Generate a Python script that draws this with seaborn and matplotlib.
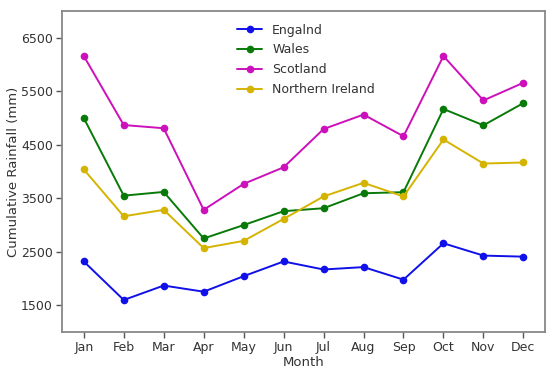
import matplotlib
matplotlib.use("Agg")
import matplotlib.pyplot as plt
import seaborn as sns
import pandas as pd

months = ["Jan", "Feb", "Mar", "Apr", "May", "Jun", "Jul", "Aug", "Sep", "Oct", "Nov", "Dec"]
england = [2320, 1600, 1870, 1755, 2045, 2320, 2170, 2215, 1980, 2660, 2430, 2410]
wales = [5000, 3550, 3620, 2750, 3000, 3260, 3315, 3595, 3615, 5170, 4865, 5280]
scotland = [6160, 4870, 4810, 3285, 3770, 4080, 4795, 5065, 4660, 6160, 5330, 5660]
n_ireland = [4040, 3165, 3285, 2570, 2705, 3115, 3535, 3790, 3535, 4600, 4150, 4170]
series_names = ["Engalnd", "Wales", "Scotland", "Northern Ireland"]
yticks = [1500, 2500, 3500, 4500, 5500, 6500]

rows = []
for name, vals in zip(series_names, [england, wales, scotland, n_ireland]):
    for m, v in zip(months, vals):
        rows.append({"Month": m, "Rainfall": v, "Region": name})
df = pd.DataFrame(rows)

sns.set_style("white")
plt.rcParams["font.family"] = ["DejaVu Sans Condensed", "Liberation Sans Narrow", "DejaVu Sans"]

fig, ax = plt.subplots(figsize=(5.47, 3.69), dpi=100)
fig.subplots_adjust(left=0.113, right=0.997, top=0.970, bottom=0.100)

palette = ["#1010e8", "#087a08", "#cc10bb", "#d4b400"]
sns.lineplot(data=df, x="Month", y="Rainfall", hue="Region", palette=palette,
             marker="o", markersize=5.5, markeredgewidth=0, linewidth=1.4, ax=ax,
             sort=False)

ax.set_ylim(1000, 7000)
ax.set_yticks(yticks)
ax.set_xlabel("Month", fontsize=9.5, labelpad=1, color="#333333")
ax.set_ylabel("Cumulative Rainfall (mm)", fontsize=9.5, labelpad=0.5, color="#333333")
ax.tick_params(axis="both", labelsize=9, length=4, width=1, color="#555555",
               bottom=True, left=True, labelcolor="#333333", pad=2.5)
for s in ax.spines.values():
    s.set_color("#888888")
    s.set_linewidth(1.3)

leg = ax.legend(loc="upper center", frameon=False, fontsize=9, title=None,
                handlelength=2.0, labelspacing=0.55, borderaxespad=0.6,
                bbox_to_anchor=(0.505, 1.0))
for t in leg.get_texts():
    t.set_color("#333333")
fig.savefig("out.png", dpi=100)
